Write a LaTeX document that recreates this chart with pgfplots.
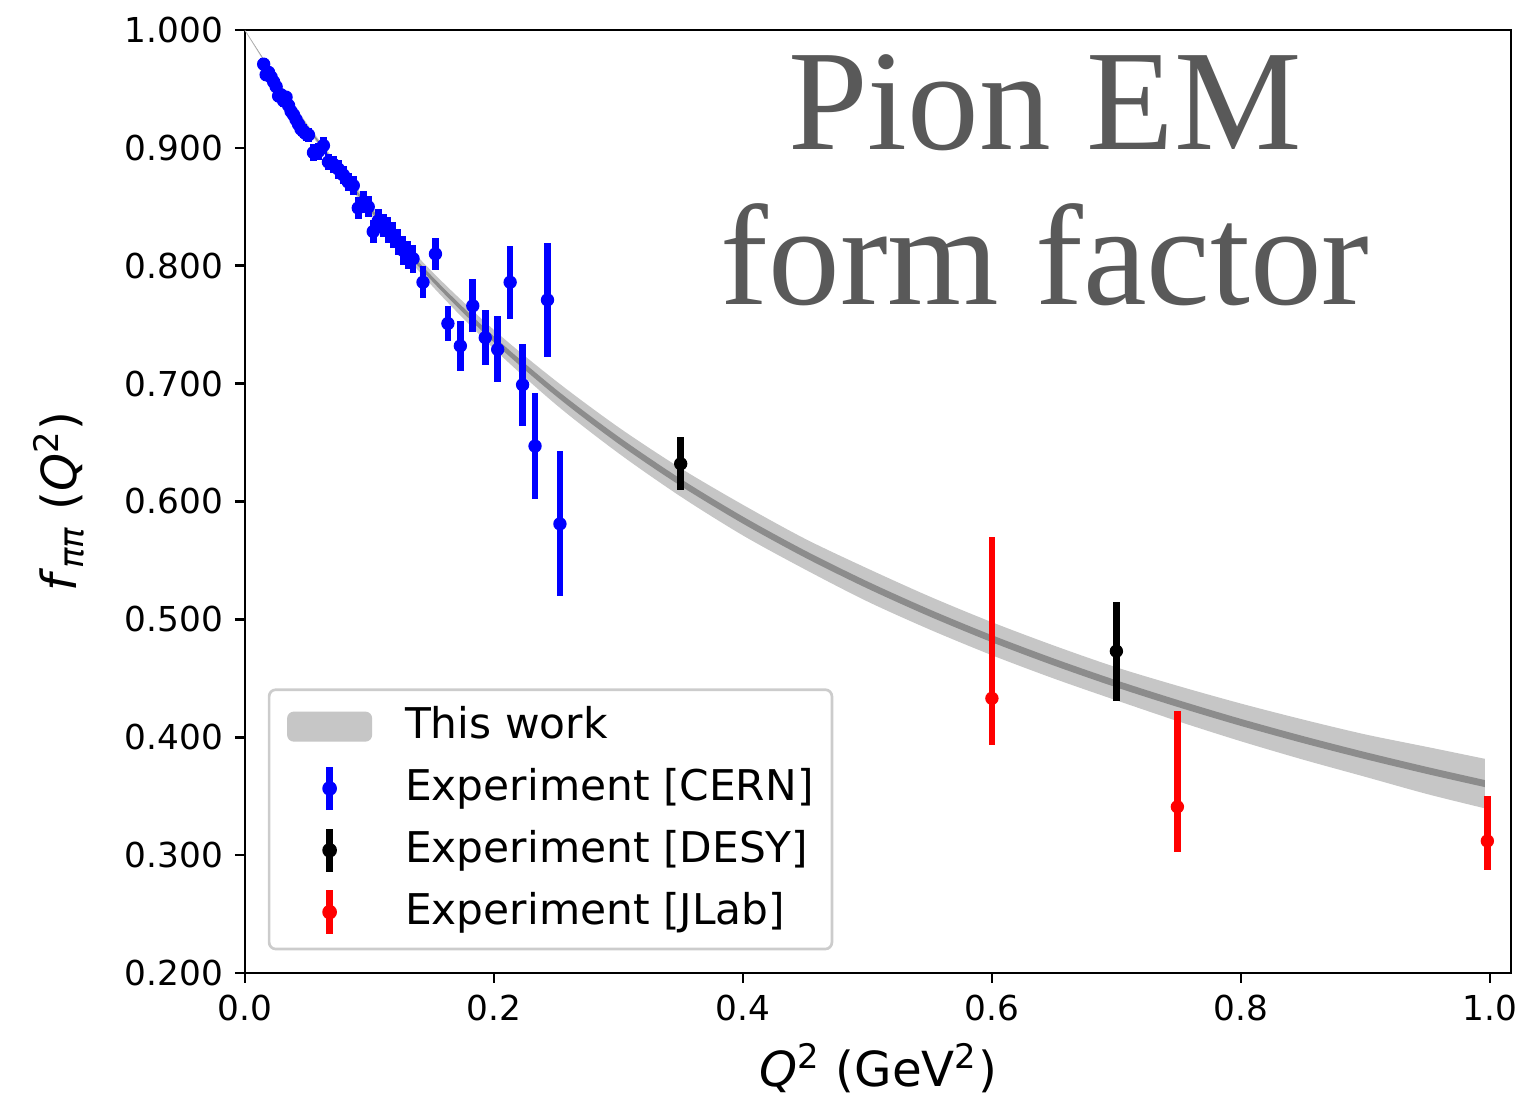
\documentclass[border=0pt]{standalone}
\usepackage{fontspec}
\setmainfont{DejaVu Sans}
\newfontfamily\titlefont{Liberation Serif}
\usepackage{pgfplots}
\pgfplotsset{compat=1.18}
\usepackage{pgfplotstable}
\usepgfplotslibrary{fillbetween}

\pgfplotstableread{
x    c      lo     hi     dlo    dhi
0.00 1.0000 0.9990 1.0000 1.0000 1.0000
0.05 0.9183 0.9163 0.9203 0.9175 0.9191
0.10 0.8489 0.8449 0.8529 0.8474 0.8504
0.15 0.7893 0.7833 0.7953 0.7873 0.7913
0.20 0.7375 0.7295 0.7455 0.7350 0.7400
0.25 0.6921 0.6821 0.7021 0.6893 0.6949
0.30 0.6520 0.6410 0.6630 0.6490 0.6550
0.35 0.6162 0.6042 0.6282 0.6132 0.6192
0.40 0.5842 0.5712 0.5972 0.5812 0.5872
0.45 0.5553 0.5423 0.5683 0.5523 0.5583
0.50 0.5292 0.5152 0.5432 0.5262 0.5322
0.55 0.5054 0.4914 0.5194 0.5024 0.5084
0.60 0.4836 0.4696 0.4976 0.4806 0.4866
0.65 0.4637 0.4497 0.4777 0.4607 0.4667
0.70 0.4453 0.4313 0.4593 0.4423 0.4483
0.75 0.4284 0.4134 0.4434 0.4254 0.4314
0.80 0.4126 0.3966 0.4286 0.4096 0.4156
0.85 0.3980 0.3810 0.4150 0.3950 0.4010
0.90 0.3844 0.3664 0.4024 0.3814 0.3874
0.95 0.3717 0.3517 0.3917 0.3687 0.3747
0.996 0.3607 0.3397 0.3817 0.3577 0.3637
}\band

\pgfplotstableread{
x     y     e
0.015 0.971 0.005
0.017 0.962 0.005
0.019 0.964 0.005
0.021 0.960 0.005
0.023 0.956 0.005
0.025 0.952 0.005
0.027 0.944 0.005
0.029 0.945 0.005
0.031 0.940 0.005
0.033 0.943 0.005
0.035 0.936 0.006
0.037 0.931 0.006
0.039 0.928 0.006
0.041 0.924 0.006
0.043 0.920 0.006
0.045 0.916 0.006
0.047 0.914 0.006
0.049 0.912 0.006
0.051 0.911 0.006
0.055 0.896 0.007
0.059 0.897 0.007
0.063 0.902 0.007
0.067 0.888 0.007
0.071 0.886 0.007
0.075 0.882 0.008
0.079 0.877 0.008
0.083 0.871 0.008
0.087 0.868 0.008
0.091 0.849 0.009
0.095 0.854 0.009
0.099 0.850 0.009
0.103 0.829 0.010
0.107 0.838 0.010
0.111 0.834 0.010
0.115 0.830 0.011
0.119 0.826 0.011
0.123 0.820 0.011
0.127 0.813 0.012
0.131 0.809 0.012
0.135 0.806 0.012
0.143 0.786 0.0136
0.153 0.810 0.0136
0.163 0.751 0.015
0.173 0.732 0.021
0.183 0.766 0.0225
0.193 0.739 0.0235
0.203 0.729 0.028
0.213 0.786 0.031
0.223 0.699 0.035
0.233 0.647 0.045
0.243 0.771 0.048
0.253 0.581 0.0615
}\cern

\pgfplotstableread{
x    y     e
0.35 0.632 0.0225
0.70 0.473 0.042
}\desy

\pgfplotstableread{
x     y     ep    em
0.600 0.433 0.137 0.040
0.749 0.341 0.081 0.038
0.998 0.312 0.038 0.025
}\jlab

\begin{document}
\begin{tikzpicture}
\begin{axis}[
  name=ax,
  scale only axis,
  width=379.8pt, height=282.9pt,
  xmin=0, xmax=1.017, ymin=0.2, ymax=1.0,
  axis line style={line width=0.8pt},
  tick style={line width=0.8pt, black},
  tick align=outside,
  major tick length=3pt,
  xtick pos=lower, ytick pos=left,
  xtick={0,0.2,0.4,0.6,0.8,1.0},
  ytick={0.2,0.3,0.4,0.5,0.6,0.7,0.8,0.9,1.0},
  xticklabel style={/pgf/number format/.cd, fixed, fixed zerofill, precision=1, assume math mode=true},
  yticklabel style={/pgf/number format/.cd, fixed, fixed zerofill, precision=3, assume math mode=true},
  tick label style={font=\fontsize{10.3}{12}\selectfont},
  label style={font=\fontsize{14.5}{17}\selectfont},
  xlabel={\textit{Q}\textsuperscript{2} (GeV\textsuperscript{2})},
  ylabel={\textit{f}\textsubscript{\textit{ππ}} (\textit{Q}\textsuperscript{2})},
  ylabel shift=5.4pt,
  legend cell align=left,
  legend style={at={(0.018,0.024)}, anchor=south west,
    draw=black!20, line width=0.8pt, rounded corners=2pt, fill=white,
    font=\fontsize{12.7}{15.2}\selectfont,
    row sep=2.4pt, column sep=9pt, inner xsep=5pt, inner ysep=3pt,
    nodes={text depth=0.25em, inner xsep=0.5pt}},
]
\addplot[name path=hi, draw=none, smooth, forget plot] table[x=x,y=hi]{\band};
\addplot[name path=lo, draw=none, smooth, forget plot] table[x=x,y=lo]{\band};
\addplot[fill=gray!45, draw=none,
  legend image code/.code={\fill[gray!45] (-1pt,-4.5pt) rectangle (24.5pt,4.5pt);}]
  fill between[of=hi and lo];
\addlegendentry{This work}
\addplot[name path=dhi, draw=none, smooth, forget plot] table[x=x,y=dhi]{\band};
\addplot[name path=dlo, draw=none, smooth, forget plot] table[x=x,y=dlo]{\band};
\addplot[fill=gray!90, draw=none, forget plot] fill between[of=dhi and dlo];

\addplot[blue, only marks, mark=*, mark size=1.8pt,
  legend image code/.code={\path (-1pt,0pt) (24.5pt,0pt); \draw[line width=2pt] (11.75pt,-6.5pt) -- (11.75pt,6.5pt); \fill (11.75pt,0pt) circle (1.8pt);},
  error bars/.cd, y dir=both, y explicit, error mark=none,
  error bar style={line width=2pt}]
  table[x=x, y=y, y error=e]{\cern};
\addlegendentry{Experiment [CERN]}

\addplot[black, only marks, mark=*, mark size=1.8pt,
  legend image code/.code={\path (-1pt,0pt) (24.5pt,0pt); \draw[line width=2pt] (11.75pt,-6.5pt) -- (11.75pt,6.5pt); \fill (11.75pt,0pt) circle (1.8pt);},
  error bars/.cd, y dir=both, y explicit, error mark=none,
  error bar style={line width=2pt}]
  table[x=x, y=y, y error=e]{\desy};
\addlegendentry{Experiment [DESY]}

\addplot[red, only marks, mark=*, mark size=1.8pt,
  legend image code/.code={\path (-1pt,0pt) (24.5pt,0pt); \draw[line width=2pt] (11.75pt,-6.5pt) -- (11.75pt,6.5pt); \fill (11.75pt,0pt) circle (1.8pt);},
  error bars/.cd, y dir=both, y explicit, error mark=none,
  error bar style={line width=2pt}]
  table[x=x, y=y, y error plus=ep, y error minus=em]{\jlab};
\addlegendentry{Experiment [JLab]}

\node[anchor=north, align=center, inner sep=0pt, text=black!65,
  font=\titlefont\fontsize{43}{46.5}\selectfont]
  at (rel axis cs:0.632,0.975) {Pion EM\\form factor};
\end{axis}
\pgfresetboundingbox
\path ([shift={(-73.5pt,-37.5pt)}]ax.south west) rectangle ([shift={(2.1pt,9pt)}]ax.north east);
\end{tikzpicture}
\end{document}
